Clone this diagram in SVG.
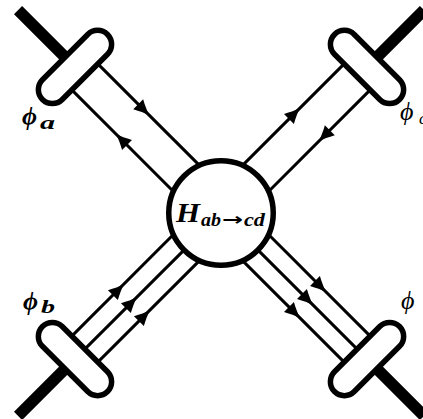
<svg xmlns="http://www.w3.org/2000/svg" xmlns:xlink="http://www.w3.org/1999/xlink" width="423" height="419" viewBox="0 0 423 419">
<style>
.thin{stroke:#000;stroke-width:3;fill:none}
.thick{stroke:#000;stroke-width:11.5;fill:none}
.pill{fill:#fff;stroke:#000;stroke-width:5.5}
.hub{fill:#fff;stroke:#000;stroke-width:5.5}
.lbl{font-family:"Liberation Serif","DejaVu Serif",serif;font-style:italic;fill:#000}
.sub{font-family:"Liberation Serif","DejaVu Serif",serif;font-style:italic;font-weight:bold;fill:#000}
.hl{font-family:"Liberation Serif",serif;font-style:italic;font-weight:bold;fill:#000}
</style>
<defs>
<path id="ah" d="M8,0 C3.5,-1.5 -2,-4 -7.5,-7 L-7.5,7 C-2,4 3.5,1.5 8,0 Z" fill="#000"/>
</defs>
<rect width="423" height="419" fill="#fff"/>
<g id="connectors">
  <g transform="translate(221,213) rotate(225)">
    <line class="thick" x1="200" y1="0" x2="287" y2="0"/>
    <line class="thin" x1="45" y1="18.4" x2="200" y2="18.4"/>
    <line class="thin" x1="45" y1="-18.4" x2="200" y2="-18.4"/>
    <use xlink:href="#ah" transform="translate(128,18.4) rotate(180)"/>
    <use xlink:href="#ah" transform="translate(122,-18.4)"/>
  </g>
  <g transform="translate(221,213) rotate(-45)">
    <line class="thick" x1="200" y1="0" x2="287" y2="0"/>
    <line class="thin" x1="45" y1="18.4" x2="200" y2="18.4"/>
    <line class="thin" x1="45" y1="-18.4" x2="200" y2="-18.4"/>
    <use xlink:href="#ah" transform="translate(128,18.4) rotate(180)"/>
    <use xlink:href="#ah" transform="translate(122,-18.4)"/>
  </g>
  <g transform="translate(221,213) rotate(135)">
    <line class="thick" x1="200" y1="0" x2="287" y2="0"/>
    <line class="thin" x1="45" y1="18.4" x2="200" y2="18.4"/>
    <line class="thin" x1="45" y1="0" x2="200" y2="0"/>
    <line class="thin" x1="45" y1="-18.4" x2="200" y2="-18.4"/>
    <use xlink:href="#ah" transform="translate(127,18.4) rotate(180)"/>
    <use xlink:href="#ah" transform="translate(127,0) rotate(180)"/>
    <use xlink:href="#ah" transform="translate(127,-18.4) rotate(180)"/>
  </g>
  <g transform="translate(221,213) rotate(45)">
    <line class="thick" x1="200" y1="0" x2="287" y2="0"/>
    <line class="thin" x1="45" y1="18.4" x2="200" y2="18.4"/>
    <line class="thin" x1="45" y1="0" x2="200" y2="0"/>
    <line class="thin" x1="45" y1="-18.4" x2="200" y2="-18.4"/>
    <use xlink:href="#ah" transform="translate(122,18.4)"/>
    <use xlink:href="#ah" transform="translate(122,0)"/>
    <use xlink:href="#ah" transform="translate(122,-18.4)"/>
  </g>
</g>
<g id="phi_a">
  <rect class="pill" transform="translate(221,213) rotate(225)" x="192.5" y="-46" width="28" height="92" rx="14"/>
  <text class="lbl" x="22" y="125" font-size="26" font-weight="bold">ϕ</text>
  <text class="sub" x="40" y="129" font-size="18" textLength="15" lengthAdjust="spacingAndGlyphs">a</text>
</g>
<g id="phi_c">
  <rect class="pill" transform="translate(221,213) rotate(-45)" x="192.5" y="-46" width="28" height="92" rx="14"/>
  <text class="lbl" x="400" y="120" font-size="26">ϕ</text>
  <text class="lbl" x="419" y="124" font-size="17">c</text>
</g>
<g id="phi_b">
  <rect class="pill" transform="translate(221,213) rotate(135)" x="192.5" y="-46" width="28" height="92" rx="14"/>
  <text class="lbl" x="23" y="310" font-size="26" font-weight="bold">ϕ</text>
  <text class="sub" x="41" y="313" font-size="18" textLength="14" lengthAdjust="spacingAndGlyphs">b</text>
</g>
<g id="phi_d">
  <rect class="pill" transform="translate(221,213) rotate(45)" x="192.5" y="-46" width="28" height="92" rx="14"/>
  <text class="lbl" x="401" y="309" font-size="26">ϕ</text>
</g>
<g id="H">
  <circle class="hub" cx="221" cy="213" r="52.25"/>
  <text class="hl" x="176" y="222" font-size="28" textLength="24" lengthAdjust="spacingAndGlyphs">H</text>
  <text class="hl" x="201" y="226" font-size="19" textLength="20" lengthAdjust="spacingAndGlyphs">ab</text>
  <text x="222" y="225" font-family="DejaVu Sans, sans-serif" font-weight="bold" font-size="17" textLength="21" lengthAdjust="spacingAndGlyphs">→</text>
  <text class="hl" x="244" y="226" font-size="19" textLength="21" lengthAdjust="spacingAndGlyphs">cd</text>
</g>
</svg>
